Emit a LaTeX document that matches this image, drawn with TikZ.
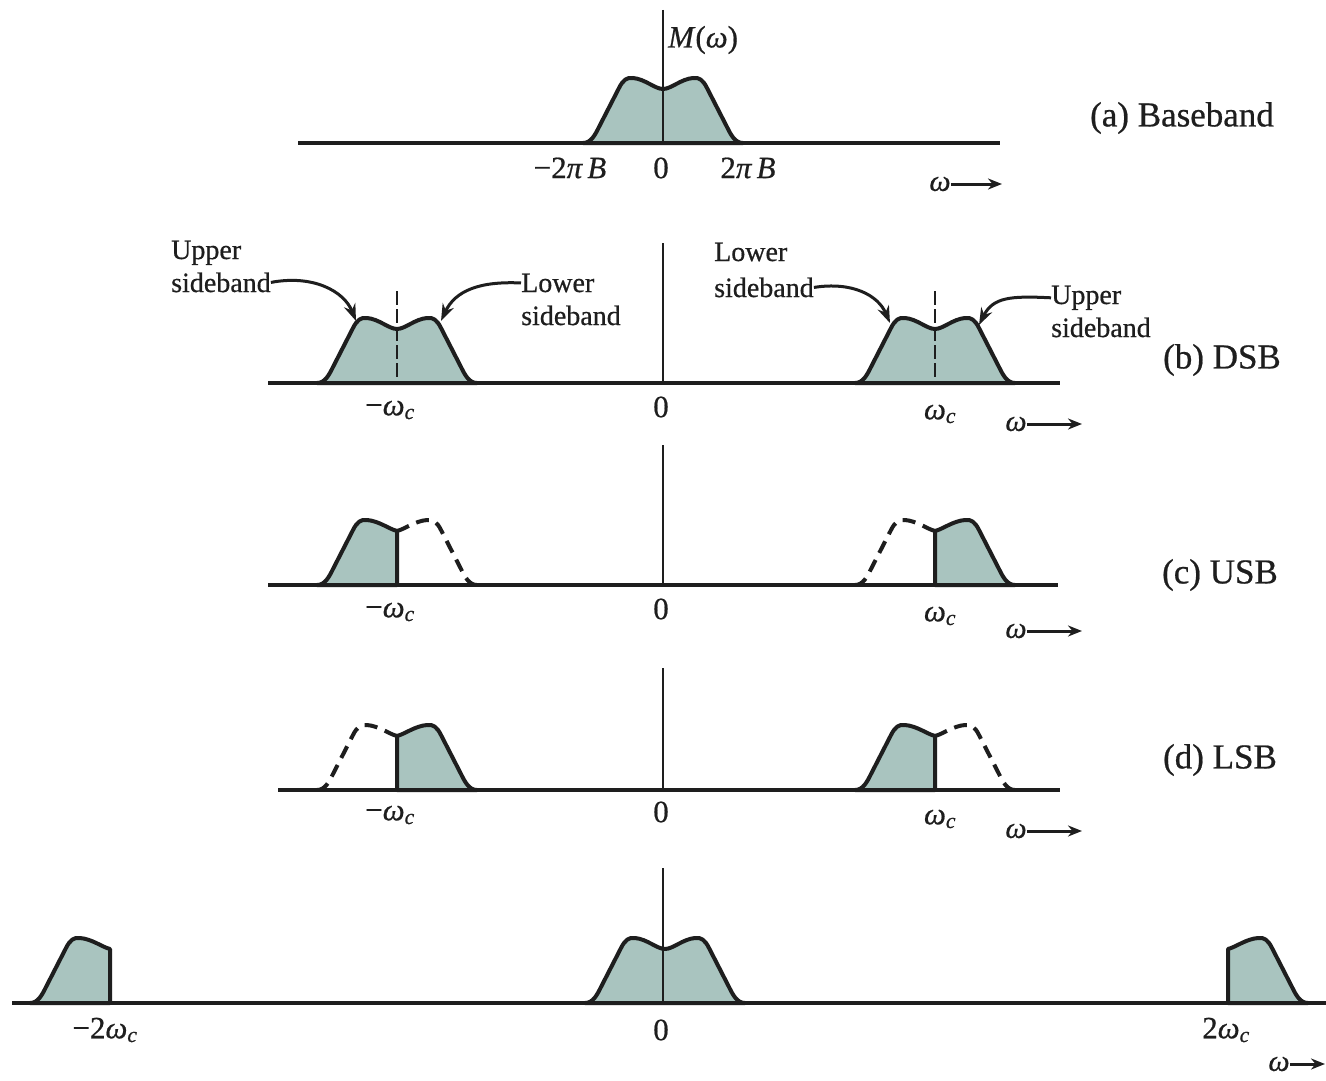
\documentclass[tikz,border=0pt]{standalone}
\usepackage{fontspec}
\setmainfont{Liberation Serif}[FakeBold=0.6]
\usetikzlibrary{arrows.meta}
\definecolor{bandfill}{HTML}{A9C4BF}
\definecolor{ink}{HTML}{1E1E1E}

\tikzset{
  axisline/.style={line width=3.4pt, draw=ink},
  vaxis/.style={line width=2.2pt, draw=ink},
  band/.style={line width=4pt, draw=ink, fill=bandfill, line join=round},
  ghost/.style={line width=4pt, draw=ink, dash pattern=on 13pt off 8pt},
  centreline/.style={line width=1.6pt, draw=ink, dash pattern=on 14pt off 4pt},
  lbl/.style={text=ink, font=\fontsize{31}{36}\selectfont, inner sep=0pt},
  wlbl/.style={text=ink, font=\fontsize{30}{32}\selectfont, inner sep=0pt},
  ptitle/.style={text=ink, font=\fontsize{35}{40}\selectfont, inner sep=0pt},
  sbtext/.style={text=ink, font=\fontsize{28}{34}\selectfont, inner sep=0pt, anchor=base west},
  warrow/.style={line width=3pt, draw=ink, -{Stealth[length=14pt,width=11pt]}},
  sbarrow/.style={line width=3pt, draw=ink, -{Stealth[length=17pt,width=12pt]}},
}

% sideband shapes, drawn in local coordinates (y upwards) about the carrier
\newcommand\fullband[2]{%
  \begin{scope}[shift={(#1,#2)},yscale=-1]
    \path[band] (-80,0) .. controls (-72,0) and (-68,8) .. (-64,16) -- (-44,55)
      .. controls (-40,63) and (-36,66) .. (-30,65) .. controls (-18,64) and (-8,54) .. (0,54)
      .. controls (8,54) and (18,64) .. (30,65)
      .. controls (36,66) and (40,63) .. (44,55) -- (64,16) .. controls (68,8) and (72,0) .. (80,0) -- cycle;
  \end{scope}}
\newcommand\lowerhalf[2]{%
  \begin{scope}[shift={(#1,#2)},yscale=-1]
    \path[band] (-80,0) .. controls (-72,0) and (-68,8) .. (-64,16) -- (-44,55)
      .. controls (-40,63) and (-36,66) .. (-30,65) .. controls (-18,64) and (-8,56) .. (0,54)
      -- (0,0) -- cycle;
  \end{scope}}
\newcommand\upperhalf[2]{%
  \begin{scope}[shift={(#1,#2)},yscale=-1]
    \path[band] (0,0) -- (0,54) .. controls (8,56) and (18,64) .. (30,65)
      .. controls (36,66) and (40,63) .. (44,55) -- (64,16) .. controls (68,8) and (72,0) .. (80,0) -- cycle;
  \end{scope}}
\newcommand\lowerghost[2]{%
  \begin{scope}[shift={(#1,#2)},yscale=-1]
    \draw[ghost] (-80,0) .. controls (-72,0) and (-68,8) .. (-64,16) -- (-44,55)
      .. controls (-40,63) and (-36,66) .. (-30,65) .. controls (-18,64) and (-8,56) .. (0,54);
  \end{scope}}
\newcommand\upperghost[2]{%
  \begin{scope}[shift={(#1,#2)},yscale=-1]
    \draw[ghost] (0,54) .. controls (8,56) and (18,64) .. (30,65)
      .. controls (36,66) and (40,63) .. (44,55) -- (64,16) .. controls (68,8) and (72,0) .. (80,0);
  \end{scope}}

\begin{document}
\begin{tikzpicture}[x=1pt,y=-1pt]
\useasboundingbox[fill=white] (0,0) rectangle (1326,1081);

% ---------------- (a) baseband ----------------
\fullband{663}{143}
\draw[axisline] (298,143) -- (1000,143);
\draw[vaxis] (663,10) -- (663,143);
\node[lbl, anchor=west] (aM) at (668,40) {\textit{M}(\textit{ω})};
\node[lbl] (aneg) at (570,168) {−2\textit{π\,B}};
\node[lbl] (azero) at (661,168) {0};
\node[lbl] (apos) at (748,168) {2\textit{π\,B}};
\node[wlbl] (aw) at (940,184) {\textit{ω}};
\coordinate (awEnd) at (1002,184);
\draw[warrow] (aw.east) -- (awEnd);
\node[ptitle] (atitle) at (1182,118) {(a) Baseband};

% ---------------- (b) DSB ----------------
\fullband{397}{383}
\fullband{935}{383}
\draw[axisline] (268,383) -- (1060,383);
\draw[vaxis] (663,243) -- (663,383);
\draw[centreline] (397,291) -- (397,383);
\draw[centreline] (935,291) -- (935,383);
\node[lbl] (bneg) at (390,410) {−\textit{ω}\textsubscript{\textit{c}}};
\node[lbl] (bzero) at (661,407) {0};
\node[lbl] (bpos) at (940,414) {\textit{ω}\textsubscript{\textit{c}}};
\node[wlbl] (bw) at (1016,424) {\textit{ω}};
\coordinate (bwEnd) at (1082,424);
\draw[warrow] (bw.east) -- (bwEnd);
\node[ptitle] (btitle) at (1222,360) {(b) DSB};

\node[sbtext] (lu1) at (171,259) {Upper};
\node[sbtext] (lu2) at (171,292) {sideband};
\node[sbtext] (ll1) at (521,292) {Lower};
\node[sbtext] (ll2) at (521,325) {sideband};
\node[sbtext] (rl1) at (714,261) {Lower};
\node[sbtext] (rl2) at (714,297) {sideband};
\node[sbtext] (ru1) at (1051,304) {Upper};
\node[sbtext] (ru2) at (1051,337) {sideband};
\coordinate (luTip) at (356,321);
\coordinate (llTip) at (441,321);
\coordinate (rlTip) at (890,323);
\coordinate (ruTip) at (979,325);
\draw[sbarrow] (lu2.east) .. controls +(42,-8) and +(-12,-30) .. (luTip);
\draw[sbarrow] (ll1.west) .. controls +(-42,-2) and +(14,-30) .. (llTip);
\draw[sbarrow] (rl2.east) .. controls +(38,-6) and +(-12,-28) .. (rlTip);
\draw[sbarrow] (ru1.west) .. controls +(-40,-2) and +(14,-28) .. (ruTip);

% ---------------- (c) USB ----------------
\lowerhalf{397}{585}
\upperghost{397}{585}
\lowerghost{935}{585}
\upperhalf{935}{585}
\draw[axisline] (268,585) -- (1058,585);
\draw[vaxis] (663,445) -- (663,585);
\node[lbl] (cneg) at (390,612) {−\textit{ω}\textsubscript{\textit{c}}};
\node[lbl] (czero) at (661,609) {0};
\node[lbl] (cpos) at (940,616) {\textit{ω}\textsubscript{\textit{c}}};
\node[wlbl] (cw) at (1016,631) {\textit{ω}};
\coordinate (cwEnd) at (1082,631);
\draw[warrow] (cw.east) -- (cwEnd);
\node[ptitle] (ctitle) at (1220,575) {(c) USB};

% ---------------- (d) LSB ----------------
\lowerghost{397}{790}
\upperhalf{397}{790}
\lowerhalf{935}{790}
\upperghost{935}{790}
\draw[axisline] (278,790) -- (1060,790);
\draw[vaxis] (663,668) -- (663,790);
\node[lbl] (dneg) at (390,815) {−\textit{ω}\textsubscript{\textit{c}}};
\node[lbl] (dzero) at (661,812) {0};
\node[lbl] (dpos) at (940,819) {\textit{ω}\textsubscript{\textit{c}}};
\node[wlbl] (dw) at (1016,831) {\textit{ω}};
\coordinate (dwEnd) at (1082,831);
\draw[warrow] (dw.east) -- (dwEnd);
\node[ptitle] (dtitle) at (1220,760) {(d) LSB};

% ---------------- (e) double-frequency terms ----------------
\lowerhalf{110}{1003}
\fullband{665}{1003}
\upperhalf{1228}{1003}
\draw[axisline] (12,1003) -- (1326,1003);
\draw[vaxis] (663,868) -- (663,1003);
\node[lbl] (eneg) at (105,1030) {−2\textit{ω}\textsubscript{\textit{c}}};
\node[lbl] (ezero) at (661,1030) {0};
\node[lbl] (epos) at (1226,1030) {2\textit{ω}\textsubscript{\textit{c}}};
\node[wlbl] (ew) at (1279,1064) {\textit{ω}};
\coordinate (ewEnd) at (1325,1064);
\draw[warrow] (ew.east) -- (ewEnd);
\end{tikzpicture}
\end{document}
